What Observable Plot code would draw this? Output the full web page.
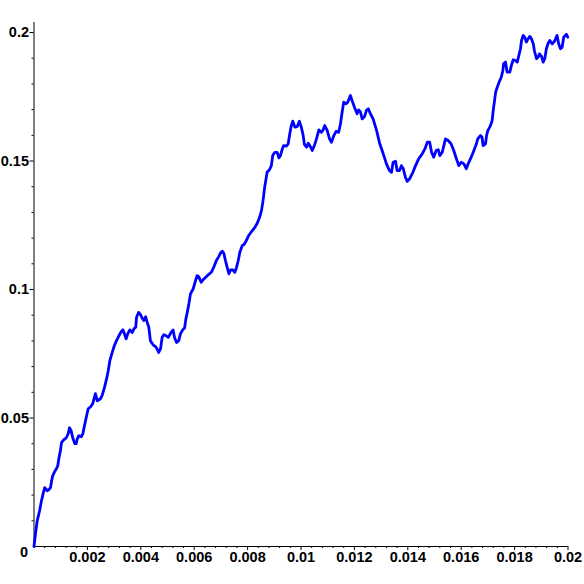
<!DOCTYPE html>
<html>
<head>
<meta charset="utf-8">
<script src="https://cdn.jsdelivr.net/npm/d3@7"></script>
<script src="https://cdn.jsdelivr.net/npm/@observablehq/plot@0.6"></script>
<style>
  html, body { margin: 0; padding: 0; background: #fff; }
  #chart svg { display: block; }
</style>
</head>
<body>
<div id="chart"></div>
<script>
// time values (x)
const xs = [
  0, 0.000056, 0.00012, 0.00021, 0.00028, 0.00034, 0.00040, 0.00049, 0.00055, 0.00062,
  0.00066, 0.00070, 0.00077, 0.00084, 0.00089, 0.00093, 0.00099, 0.00103, 0.00112, 0.00121,
  0.00128, 0.00133, 0.00139, 0.00145, 0.00153, 0.00158, 0.00162, 0.00168, 0.00177, 0.00183,
  0.00189, 0.00197, 0.00203, 0.00212, 0.00220, 0.00230, 0.00237, 0.00249, 0.00255, 0.00264,
  0.00272, 0.00278, 0.00284, 0.00293, 0.00301, 0.00309, 0.00318, 0.00327, 0.00333, 0.00339,
  0.00345, 0.00351, 0.00359, 0.00368, 0.00374, 0.00381, 0.00384, 0.00392, 0.00399, 0.00405,
  0.00411, 0.00418, 0.00424, 0.00430, 0.00436, 0.00446, 0.00455, 0.00461, 0.00467, 0.00474,
  0.00480, 0.00486, 0.00495, 0.00503, 0.00511, 0.00521, 0.00526, 0.00534, 0.00542, 0.00549,
  0.00557, 0.00564, 0.00569, 0.00574, 0.00580, 0.00586, 0.00596, 0.00605, 0.00611, 0.00617,
  0.00626, 0.00636, 0.00649, 0.00664, 0.00673, 0.00683, 0.00692, 0.00698, 0.00705, 0.00711,
  0.00717, 0.00724, 0.00730, 0.00736, 0.00745, 0.00752, 0.00758, 0.00765, 0.00771, 0.00780,
  0.00786, 0.00795, 0.00804, 0.00813, 0.00826, 0.00836, 0.00845, 0.00852, 0.00857, 0.00861,
  0.00864, 0.00873, 0.00882, 0.00889, 0.00894, 0.00902, 0.00911, 0.00917, 0.00923, 0.00930,
  0.00935, 0.00945, 0.00952, 0.00958, 0.00963, 0.00969, 0.00977, 0.00986, 0.00994, 0.01001,
  0.01007, 0.01013, 0.01021, 0.01027, 0.01033, 0.01042, 0.01050, 0.01058, 0.01067, 0.01076,
  0.01082, 0.01089, 0.01098, 0.01107, 0.01114, 0.01123, 0.01132, 0.01141, 0.01148, 0.01154,
  0.01160, 0.01169, 0.01175, 0.01185, 0.01192, 0.01200, 0.01210, 0.01216, 0.01223, 0.01229,
  0.01238, 0.01245, 0.01252, 0.01260, 0.01270, 0.01283, 0.01295, 0.01308, 0.01320, 0.01331,
  0.01339, 0.01345, 0.01354, 0.01360, 0.01369, 0.01376, 0.01383, 0.01391, 0.01398, 0.01407,
  0.01419, 0.01429, 0.01441, 0.01454, 0.01464, 0.01473, 0.01482, 0.01489, 0.01497, 0.01506,
  0.01514, 0.01520, 0.01529, 0.01535, 0.01541, 0.01551, 0.01562, 0.01572, 0.01582, 0.01591,
  0.01600, 0.01610, 0.01619, 0.01626, 0.01635, 0.01645, 0.01657, 0.01662, 0.01672, 0.01678,
  0.01682, 0.01691, 0.01695, 0.01700, 0.01707, 0.01712, 0.01716, 0.01720, 0.01725, 0.01729,
  0.01735, 0.01742, 0.01750, 0.01756, 0.01759, 0.01766, 0.01772, 0.01782, 0.01788, 0.01795,
  0.01803, 0.01810, 0.01816, 0.01822, 0.01826, 0.01832, 0.01838, 0.01844, 0.01851, 0.01857,
  0.01863, 0.01870, 0.01874, 0.01882, 0.01888, 0.01893, 0.01901, 0.01907, 0.01913, 0.01919,
  0.01926, 0.01932, 0.01941, 0.01950, 0.01959, 0.01965, 0.01972, 0.01978, 0.01984, 0.01994,
  0.01999
];
// path values (y)
const ys = [
  0, 0.0050, 0.0100, 0.0139, 0.0178, 0.0205, 0.0229, 0.0217, 0.0221, 0.0229,
  0.0256, 0.0275, 0.0291, 0.0303, 0.0314, 0.0342, 0.0373, 0.0404, 0.0416, 0.0423,
  0.0439, 0.0462, 0.0451, 0.0423, 0.0400, 0.0400, 0.0419, 0.0431, 0.0427, 0.0439,
  0.0470, 0.0509, 0.0536, 0.0544, 0.0556, 0.0595, 0.0567, 0.0575, 0.0587, 0.0619,
  0.0653, 0.0684, 0.0723, 0.0755, 0.0782, 0.0801, 0.0820, 0.0837, 0.0843, 0.0827,
  0.0808, 0.0827, 0.0843, 0.0833, 0.0847, 0.0853, 0.0892, 0.0911, 0.0902, 0.0889,
  0.0879, 0.0894, 0.0872, 0.0853, 0.0801, 0.0785, 0.0778, 0.0769, 0.0755, 0.0769,
  0.0814, 0.0824, 0.0820, 0.0814, 0.0829, 0.0843, 0.0814, 0.0794, 0.0801, 0.0829,
  0.0843, 0.0850, 0.0886, 0.0911, 0.0944, 0.0983, 0.1002, 0.1035, 0.1054, 0.1050,
  0.1028, 0.1041, 0.1054, 0.1067, 0.1086, 0.1113, 0.1128, 0.1141, 0.1149, 0.1141,
  0.1113, 0.1084, 0.1061, 0.1076, 0.1076, 0.1067, 0.1084, 0.1113, 0.1145, 0.1171,
  0.1174, 0.1190, 0.1210, 0.1223, 0.1240, 0.1258, 0.1281, 0.1307, 0.1340, 0.1372,
  0.1398, 0.1456, 0.1466, 0.1482, 0.1521, 0.1534, 0.1534, 0.1512, 0.1521, 0.1547,
  0.1560, 0.1558, 0.1567, 0.1606, 0.1634, 0.1655, 0.1632, 0.1634, 0.1655, 0.1632,
  0.1606, 0.1564, 0.1554, 0.1569, 0.1560, 0.1541, 0.1560, 0.1586, 0.1621, 0.1612,
  0.1619, 0.1638, 0.1619, 0.1586, 0.1573, 0.1599, 0.1616, 0.1612, 0.1645, 0.1690,
  0.1729, 0.1723, 0.1729, 0.1755, 0.1733, 0.1710, 0.1684, 0.1699, 0.1690, 0.1664,
  0.1673, 0.1697, 0.1703, 0.1684, 0.1664, 0.1619, 0.1567, 0.1528, 0.1489, 0.1463,
  0.1456, 0.1495, 0.1499, 0.1463, 0.1463, 0.1482, 0.1470, 0.1437, 0.1421, 0.1431,
  0.1456, 0.1482, 0.1509, 0.1528, 0.1547, 0.1573, 0.1573, 0.1534, 0.1515, 0.1541,
  0.1544, 0.1521, 0.1534, 0.1560, 0.1586, 0.1580, 0.1567, 0.1541, 0.1509, 0.1482,
  0.1495, 0.1489, 0.1470, 0.1489, 0.1509, 0.1534, 0.1567, 0.1586, 0.1599, 0.1593,
  0.1560, 0.1567, 0.1599, 0.1619, 0.1632, 0.1645, 0.1658, 0.1697, 0.1736, 0.1768,
  0.1787, 0.1807, 0.1826, 0.1852, 0.1879, 0.1885, 0.1846, 0.1846, 0.1872, 0.1894,
  0.1891, 0.1885, 0.1911, 0.1937, 0.1969, 0.1989, 0.1982, 0.1963, 0.1976, 0.1985,
  0.1976, 0.1956, 0.1930, 0.1898, 0.1904, 0.1917, 0.1907, 0.1885, 0.1898, 0.1937,
  0.1959, 0.1969, 0.1956, 0.1967, 0.1989, 0.1956, 0.1937, 0.1943, 0.1982, 0.1993,
  0.1982
];
// tick values and labels
const xTicks = [0.002, 0.004, 0.006, 0.008, 0.01, 0.012, 0.014, 0.016, 0.018, 0.02];
const xTickLabels = ["0.002", "0.004", "0.006", "0.008", "0.01", "0.012", "0.014", "0.016", "0.018", "0.02"];
const yTicks = [0.05, 0.1, 0.15, 0.2];
const yTickLabels = ["0.05", "0.1", "0.15", "0.2"];

const data = xs.map((x, i) => ({x, y: ys[i]}));
const xMinor = d3.range(1, 51).map(i => i * 0.0004).filter(v => Math.abs(v / 0.002 - Math.round(v / 0.002)) > 1e-6);
const yMinor = d3.range(1, 21).map(i => i * 0.01).filter(v => Math.abs(v / 0.05 - Math.round(v / 0.05)) > 1e-6);

const font = "'Liberation Sans Narrow', 'Liberation Sans', Arial, sans-serif";
const chart = Plot.plot({
  width: 584,
  height: 584,
  marginLeft: 33.5,
  marginRight: 16.5,
  marginTop: 22,
  marginBottom: 38,
  x: {domain: [0, 0.02]},
  y: {domain: [0, 0.2039]},
  style: {fontFamily: font, fontSize: "14px", fontWeight: "bold", color: "black", background: "white"},
  marks: [
    Plot.axisX(xMinor, {tickSize: 2, text: null, label: null}),
    Plot.axisY(yMinor, {tickSize: 2, text: null, label: null}),
    Plot.axisX(xTicks, {tickSize: 4, tickPadding: 1, tickFormat: (d, i) => xTickLabels[i], label: null, fontSize: 14.5, fontWeight: "bold"}),
    Plot.axisY(yTicks, {tickSize: 4, tickPadding: 1, tickFormat: (d, i) => yTickLabels[i], label: null, fontSize: 14.5, fontWeight: "bold"}),
    Plot.text([{x: 0, y: 0}], {x: "x", y: "y", text: () => "0", dx: -10, dy: 6, fontSize: 14.5, fontWeight: "bold"}),
    Plot.ruleY([0], {stroke: "black", strokeWidth: 1}),
    Plot.ruleX([0], {stroke: "black", strokeWidth: 1}),
    Plot.line(data, {x: "x", y: "y", stroke: "#0000ff", strokeWidth: 2.8, strokeLinejoin: "round"})
  ]
});
document.getElementById("chart").appendChild(chart);
</script>
</body>
</html>
